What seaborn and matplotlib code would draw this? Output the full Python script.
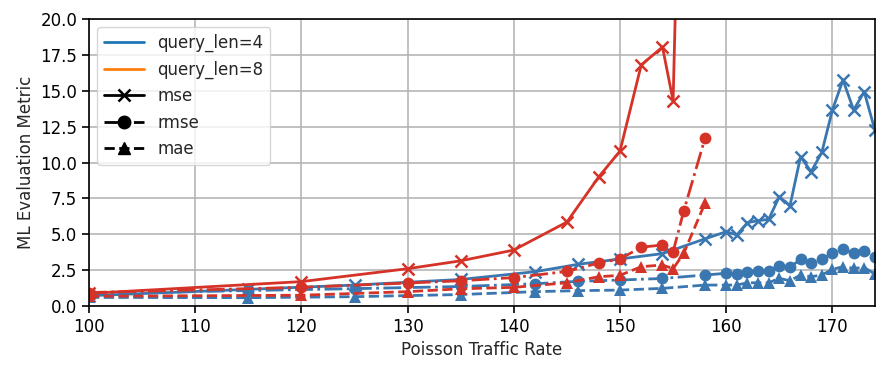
import matplotlib
matplotlib.use("Agg")
import matplotlib.pyplot as plt
from matplotlib.lines import Line2D
import numpy as np
import pandas as pd
import seaborn as sns

# ---- data ----
rate_q4 = [100, 115, 125, 135, 142, 146, 150, 154, 158, 160, 161, 162, 163, 164,
           165, 166, 167, 168, 169, 170, 171, 172, 173, 174]
mse_q4 = [0.72, 1.16, 1.46, 1.85, 2.39, 2.9, 3.28, 3.65, 4.68, 5.18, 4.95, 5.81,
          5.95, 6.04, 7.62, 6.97, 10.4, 9.36, 10.7, 13.66, 15.75, 13.66, 14.93, 12.26]
rmse_q4 = [0.85, 1.08, 1.21, 1.36, 1.55, 1.72, 1.81, 1.92, 2.16, 2.28, 2.25, 2.39,
           2.46, 2.46, 2.79, 2.7, 3.25, 3.02, 3.25, 3.67, 3.95, 3.67, 3.85, 3.44]
mae_q4 = [0.6, 0.58, 0.65, 0.8, 1.0, 1.07, 1.11, 1.23, 1.46, 1.46, 1.46, 1.62,
          1.62, 1.62, 1.93, 1.76, 2.16, 2.04, 2.16, 2.56, 2.74, 2.63, 2.68, 2.23]

rate_q8 = [100, 120, 130, 135, 140, 145, 148, 150, 152, 154, 155, 156, 158]
mse_q8 = [0.88, 1.7, 2.6, 3.15, 3.9, 5.85, 9.0, 10.8, 16.8, 18.05, 14.3, 44.0, 137.0]
rmse_q8 = [0.94, 1.3, 1.6, 1.76, 1.98, 2.41, 3.0, 3.28, 4.1, 4.25, 3.78, 6.62, 11.68]
mae_q8 = [0.68, 0.75, 1.0, 1.2, 1.3, 1.62, 2.04, 2.14, 2.74, 2.86, 2.6, 3.67, 7.16]

series_labels = ["query_len=4", "query_len=8"]
metric_labels = ["mse", "rmse", "mae"]

rows = []
for ql, xs, vals in [("query_len=4", rate_q4, (mse_q4, rmse_q4, mae_q4)),
                     ("query_len=8", rate_q8, (mse_q8, rmse_q8, mae_q8))]:
    for m, v in zip(metric_labels, vals):
        for x, y in zip(xs, v):
            rows.append({"query": ql, "metric": m, "rate": x, "value": y})
df = pd.DataFrame(rows)

# ---- style ----
sns.set_style("ticks")
plt.rcParams["font.family"] = ["DejaVu Sans"]
FS = 12

line_colors = {"query_len=4": "#3a77b0", "query_len=8": "#d63328"}
legend_colors = {"query_len=4": "#1f77b4", "query_len=8": "#ff7f0e"}
styles = {"mse": ("-", "x"), "rmse": ("-.", "o"), "mae": ("--", "^")}

fig = plt.figure(figsize=(8.94, 3.73), dpi=100)
ax = fig.add_axes([0.0996, 0.1796, 0.879, 0.7694])

for ql in series_labels:
    for m in metric_labels:
        sub = df[(df["query"] == ql) & (df["metric"] == m)]
        ls, mk = styles[m]
        sns.lineplot(data=sub, x="rate", y="value", ax=ax, color=line_colors[ql],
                     linestyle=ls, marker=mk, estimator=None, sort=False,
                     legend=False, linewidth=2.0)
        ln = ax.lines[-1]
        ln.set_markersize(8.5)
        ln.set_markeredgewidth(1.8 if mk == "x" else 0)
        ln.set_markeredgecolor(line_colors[ql])
        ln.set_markerfacecolor(line_colors[ql])

ax.set_xlim(100, 174)
ax.set_ylim(0, 20)
ax.set_xticks(np.arange(100, 171, 10))
ax.set_yticks(np.arange(0, 20.01, 2.5))
ax.set_yticklabels([f"{v:.1f}" for v in np.arange(0, 20.01, 2.5)])
ax.grid(True, color="#b0b0b0", linewidth=1.1)
ax.set_axisbelow(True)
for s in ax.spines.values():
    s.set_visible(True)
    s.set_color("black")
    s.set_linewidth(1.2)
ax.tick_params(axis="both", direction="out", length=5, width=1.2, labelsize=FS,
               colors="black")
ax.set_xlabel("Poisson Traffic Rate", fontsize=FS)
ax.set_ylabel("ML Evaluation Metric", fontsize=FS)

handles = [
    Line2D([], [], color=legend_colors["query_len=4"], lw=2),
    Line2D([], [], color=legend_colors["query_len=8"], lw=2),
    Line2D([], [], color="black", ls="-", marker="x", markersize=9, lw=2, mew=1.8),
    Line2D([], [], color="black", ls="-.", marker="o", markersize=9, lw=2),
    Line2D([], [], color="black", ls="--", marker="^", markersize=9, lw=2),
]
ax.legend(handles, series_labels + metric_labels, loc="upper left", fontsize=FS,
          framealpha=0.8, handlelength=2.4)

fig.savefig("out.png", dpi=100)
